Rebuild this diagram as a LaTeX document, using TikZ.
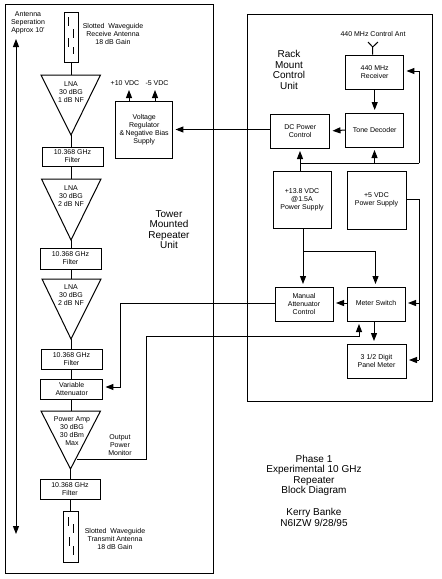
\documentclass[tikz,border=0pt]{standalone}
\usepackage{fontspec}
\setmainfont{Liberation Sans}
\usetikzlibrary{arrows.meta}
\tikzset{
  x=1pt,y=-1pt,
  every path/.style={line width=1pt},
  sized/.style 2 args={minimum width=#1pt,minimum height=#2pt},
  boxn/.style={draw,inner sep=0pt,align=center,font=\fontsize{7}{8}\selectfont},
  small/.style={inner sep=0pt,align=center,font=\fontsize{7}{8}\selectfont},
  big/.style={inner sep=0pt,align=center,font=\fontsize{10}{10.5}\selectfont},
  arr/.style={-{Triangle[length=8pt,width=6pt]},shorten >=2.5pt}
}
\begin{document}
\begin{tikzpicture}
\useasboundingbox (0,0) rectangle (442,579);
% frames
\node[draw,sized={208}{569},inner sep=0pt] (tower) at (109,288.5) {};
\node[draw,sized={185}{387},inner sep=0pt] (rack) at (339.5,207.5) {};

% top antenna
\node[draw,sized={14}{50},inner sep=0pt] (anttop) at (71.5,37) {};
\draw (68.5,17) -- (68.5,26) (73,29) -- (73,38) (68.5,38) -- (68.5,47) (73,47) -- (73,54);
% bottom antenna
\node[draw,sized={14.5}{51},inner sep=0pt] (antbot) at (71.2,536.5) {};
\draw (68.5,517) -- (68.5,526) (73,524) -- (73,533) (69,537) -- (69,546) (73,546) -- (73,555);

% triangles
\coordinate (t1l) at (41,75); \coordinate (t1r) at (100.5,75); \coordinate (t1a) at (71,135);
\coordinate (t2l) at (41.5,179); \coordinate (t2r) at (101,179); \coordinate (t2a) at (71,240);
\coordinate (t3l) at (42,279); \coordinate (t3r) at (101,279); \coordinate (t3a) at (71,339);
\coordinate (t4l) at (41,411); \coordinate (t4r) at (100.5,411); \coordinate (t4a) at (70.5,469);
\draw (t1l) -- (t1r) -- (t1a) -- cycle;
\draw (t2l) -- (t2r) -- (t2a) -- cycle;
\draw (t3l) -- (t3r) -- (t3a) -- cycle;
\draw (t4l) -- (t4r) -- (t4a) -- cycle;
\coordinate (t4tap) at (77,459);

\node[small] (l1) at (71,92) {LNA\\30 dBG\\1 dB NF};
\node[small] (l2) at (71,196) {LNA\\30 dBG\\2 dB NF};
\node[small] (l3) at (71,295) {LNA\\30 dBG\\2 dB NF};
\node[small] (l4) at (72,431) {Power Amp\\30 dBG\\30 dBm\\Max};

% filters
\node[boxn,sized={61}{19}] (f1) at (72.5,156.5) {10.368 GHz\\Filter};
\node[boxn,sized={61}{21}] (f2) at (70.5,258.5) {10.368 GHz\\Filter};
\node[boxn,sized={61}{20}] (f3) at (71.5,359) {10.368 GHz\\Filter};
\node[boxn,sized={61.5}{20}] (va) at (71.7,389) {Variable\\Attenuator};
\node[boxn,sized={60}{20}] (f4) at (70,489) {10.368 GHz\\Filter};

% chain
\draw (anttop.south) -- (anttop.south |- t1l);
\draw (t1a) -- (t1a |- f1.north);
\draw (t1a |- f1.south) -- (t2a |- t2l);
\draw (t2a) -- (t2a |- f2.north);
\draw (t2a |- f2.south) -- (t3a |- t3l);
\draw (t3a) -- (t3a |- f3.north);
\draw (t3a |- f3.south) -- (t3a |- va.north);
\draw (t3a |- va.south) -- (t3a |- t4l);
\draw (t4a) -- (t4a |- f4.north);
\draw (t4a |- f4.south) -- (t4a |- antbot.north);

% antenna separation
\coordinate (sept) at (16,39); \coordinate (sepb) at (16,534);
\draw[{Triangle[length=8pt,width=6pt]}-{Triangle[length=8pt,width=6pt]}] (sept) -- (sepb);
\node[small] (sepl) at (28,22.5) {Antenna\\Seperation\\Approx 10'};

\node[small] (rxl) at (113,33.5) {Slotted\ \ Waveguide\\Receive Antenna\\18 dB Gain};
\node[small] (txl) at (115,539) {Slotted\ \ Waveguide\\Transmit Antenna\\18 dB Gain};

% voltage regulator
\node[boxn,sized={56.5}{57}] (vr) at (144.2,129.5) {Voltage\\Regulator\\\&\,Negative Bias\\Supply};
\node[small] (p10) at (125,83) {+10 VDC};
\node[small] (m5) at (157,83) {-5 VDC};
\coordinate (p10a) at (129,90); \coordinate (m5a) at (155,90);
\draw[arr,shorten >=0pt] (vr.north -| p10a) -- (p10a);
\draw[arr,shorten >=0pt] (vr.north -| m5a) -- (m5a);

% tower / rack labels
\node[big] (towerl) at (169,229.5) {Tower\\Mounted\\Repeater\\Unit};
\node[big] (rackl) at (289,70) {Rack\\Mount\\Control\\Unit};

% rack boxes
\node[boxn,sized={57.5}{34}] (rx) at (374.7,72) {440 MHz\\Receiver};
\node[boxn,sized={57.5}{34}] (td) at (374.7,130) {Tone Decoder};
\node[boxn,sized={58.5}{34}] (dc) at (300.2,131) {DC Power\\Control};
\node[boxn,sized={58}{57}] (ps13) at (302,199.5) {+13.8 VDC\\@1.5A\\Power Supply};
\node[boxn,sized={59}{58}] (ps5) at (376.5,200) {+5 VDC\\Power Supply};
\node[boxn,sized={58}{34}] (ma) at (304,304) {Manual\\Attenuator\\Control};
\node[boxn,sized={58}{34}] (ms) at (376,304) {\raisebox{3pt}{Meter Switch}};
\node[boxn,sized={59}{34}] (pm) at (376.5,361) {3 1/2 Digit\\Panel Meter};

% control antenna
\coordinate (cant) at (372.7,47); \coordinate (cantl) at (368,42); \coordinate (cantr) at (378,42);
\draw (rx.north -| cant) -- (cant) -- (cantl) (cant) -- (cantr);
\node[small] (cantt) at (373,34) {440 MHz Control Ant};

% rack connectors
\draw[arr] (rx.south) -- (td.north);
\draw[arr] (td.west) -- (dc.east);
\draw[arr] (dc.west |- vr.east) -- (vr.east);
\coordinate (bus) at (419,163);
\coordinate (a13) at (300,163);
\draw[arr] (a13 |- ps13.north) -- (a13 |- dc.south);
\draw (a13) -- (bus);
\coordinate (tdbus) at (374.5,163);
\draw[arr] (tdbus) -- (tdbus |- td.south);
\coordinate (rxin) at (419,71);
\draw[arr] (bus) -- (rxin) -- (rx.east |- rxin);
\coordinate (p5o) at (419,199); \coordinate (pmin) at (419,360); \coordinate (msin) at (419,303);
\draw (ps5.east |- p5o) -- (p5o) -- (pmin);
\draw[arr] (pmin) -- (pm.east |- pmin);
\draw[arr] (msin) -- (ms.east |- msin);
\coordinate (j13) at (303,251); \coordinate (j13r) at (375.5,251);
\draw[arr] (j13 |- ps13.south) -- (j13 |- ma.north);
\draw[arr] (j13) -- (j13r) -- (j13r |- ms.north);
\draw[arr] (ms.west |- msin) -- (ma.east |- msin);
\coordinate (mspm) at (374,340);
\draw[arr] (mspm |- ms.south) -- (mspm |- pm.north);

% long lines
\coordinate (m1) at (120,303); \coordinate (m2) at (120,387);
\draw[arr] (ma.west |- m1) -- (m1) -- (m2) -- (va.east |- m2);
\coordinate (o1) at (146,459); \coordinate (o2) at (146,336); \coordinate (o3) at (359,336);
\draw[arr] (t4tap) -- (o1) -- (o2) -- (o3) -- (o3 |- ms.south);

\node[small] (opm) at (120,445) {Output\\Power\\Monitor};

% title
\node[big] (title) at (314,475.5) {Phase 1\\Experimental 10 GHz\\Repeater\\Block Diagram};
\node[big] (auth) at (314,517.5) {Kerry Banke\\N6IZW 9/28/95};
\end{tikzpicture}
\end{document}
